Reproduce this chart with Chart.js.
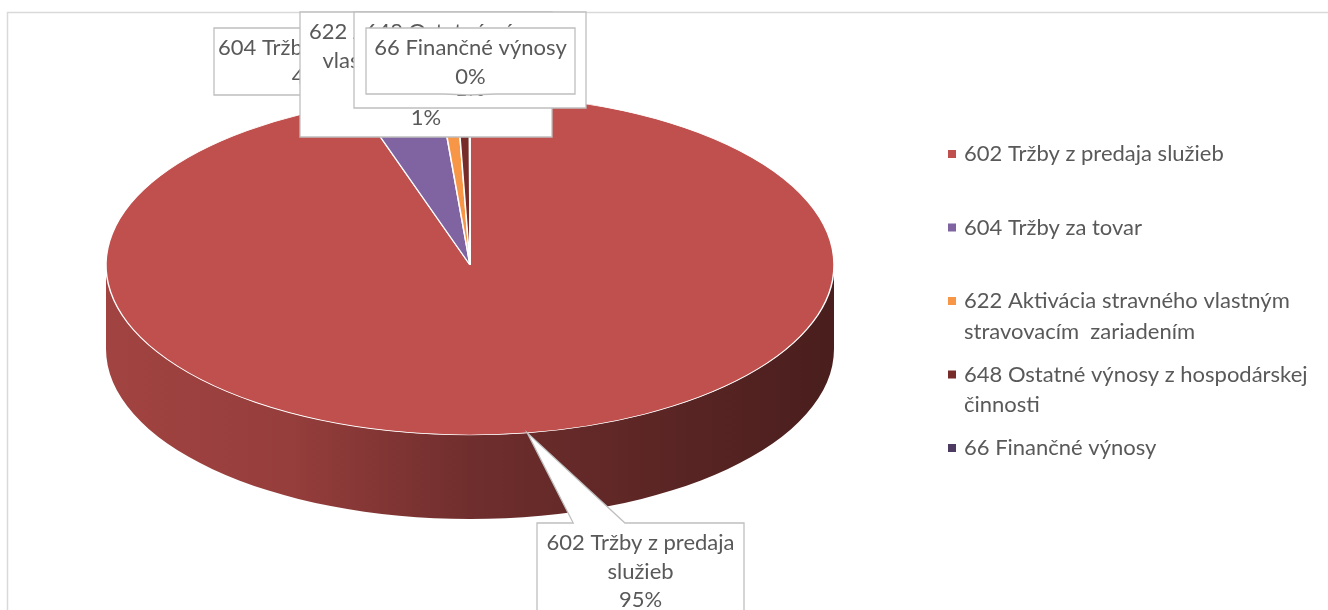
<!DOCTYPE html>
<html>
<head>
<meta charset="utf-8">
<script src="https://cdn.jsdelivr.net/npm/chart.js@4"></script>
<style>
  html, body { margin: 0; padding: 0; background: #fff; }
  #wrap { width: 1328px; height: 610px; position: relative; }
</style>
</head>
<body>
<div id="wrap"><canvas id="pie_3d"></canvas></div>
<script>
// chart data
const categories = [
  '602 Tržby z predaja služieb',
  '604 Tržby za tovar',
  '622 Aktivácia stravného vlastným stravovacím  zariadením',
  '648 Ostatné výnosy z hospodárskej činnosti',
  '66 Finančné výnosy'
];
const values = [94.97, 3.7, 0.75, 0.55, 0.03];
const sliceColors = ['#c0504d', '#8064a2', '#f79646', '#772c2a', '#4d3b62'];

// look of the 3d pie
const tilt = 0.467;   // vertical squash of the disc
const depth = 84;     // thickness of the side wall
const textColor = '#595959';
const font = '22px Lato';

// callout boxes, drawn in this order (later ones cover earlier ones)
const labelBoxes = [
  {x: 537, y: 523, w: 207, h: 120},
  {x: 214, y: 28, w: 186, h: 67},
  {x: 300, y: 12, w: 252, h: 125},
  {x: 354, y: 12, w: 232, h: 96},
  {x: 366, y: 28, w: 209, h: 66}
];

function shade(hex, f) {
  var r = parseInt(hex.substr(1, 2), 16), g = parseInt(hex.substr(3, 2), 16), b = parseInt(hex.substr(5, 2), 16)
  return 'rgb(' + Math.round(r * f) + ',' + Math.round(g * f) + ',' + Math.round(b * f) + ')'
}

function wrapText(ctx, text, maxW) {
  var words = text.split(' ')
  var lines = [], line = ''
  for (var i = 0; i < words.length; i++) {
    var test = line === '' ? words[i] : line + ' ' + words[i]
    if (line !== '' && ctx.measureText(test.trim()).width > maxW) {
      lines.push(line.trim())
      line = words[i]
    } else {
      line = test
    }
  }
  if (line.trim() !== '') lines.push(line.trim())
  return lines
}

function geom(chart) {
  var arc = chart.getDatasetMeta(0).data[0]
  return {cx: arc.x, cy: arc.y, rx: arc.outerRadius, ry: arc.outerRadius * tilt}
}

var pie3d = {
  id: 'pie3d',
  beforeDraw: function (chart) {
    var ctx = chart.ctx
    ctx.save()
    ctx.fillStyle = '#fff'
    ctx.fillRect(0, 0, chart.width, chart.height)
    ctx.strokeStyle = '#d9d9d9'
    ctx.lineWidth = 1.5
    ctx.strokeRect(7.5, 12.5, chart.width + 20, chart.height + 20)
    ctx.restore()
  },
  beforeDatasetsDraw: function (chart) {
    var ctx = chart.ctx
    var g = geom(chart)
    var arcs = chart.getDatasetMeta(0).data
    // side walls, only the front half of the disc shows
    for (var i = 0; i < arcs.length; i++) {
      var a1 = Math.max(arcs[i].startAngle, 0)
      var a2 = Math.min(arcs[i].endAngle, Math.PI)
      if (a2 <= a1) continue
      var col = sliceColors[i]
      var grad = ctx.createLinearGradient(g.cx - g.rx, 0, g.cx + g.rx, 0)
      grad.addColorStop(0, shade(col, 0.84))
      grad.addColorStop(0.25, shade(col, 0.78))
      grad.addColorStop(0.5, shade(col, 0.58))
      grad.addColorStop(1, shade(col, 0.38))
      ctx.beginPath()
      ctx.ellipse(g.cx, g.cy, g.rx, g.ry, 0, a1, a2)
      ctx.ellipse(g.cx, g.cy + depth, g.rx, g.ry, 0, a2, a1, true)
      ctx.closePath()
      ctx.fillStyle = grad
      ctx.fill()
    }
    // squash the top face into an ellipse
    ctx.save()
    ctx.translate(g.cx, g.cy)
    ctx.scale(1, tilt)
    ctx.translate(-g.cx, -g.cy)
  },
  afterDatasetsDraw: function (chart) {
    chart.ctx.restore()
  },
  afterDraw: function (chart) {
    var ctx = chart.ctx
    var g = geom(chart)
    var arcs = chart.getDatasetMeta(0).data
    var total = values.reduce(function (a, b) { return a + b }, 0)
    ctx.save()
    ctx.font = font
    ctx.textBaseline = 'middle'

    // callouts
    for (var i = 0; i < labelBoxes.length; i++) {
      var b = labelBoxes[i]
      var mid = (arcs[i].startAngle + arcs[i].endAngle) / 2
      var ax = g.cx + g.rx * Math.cos(mid), ay = g.cy + g.ry * Math.sin(mid)
      var bx = Math.min(Math.max(ax, b.x + b.w * 0.3), b.x + b.w * 0.7)
      var hw = b.w * 0.125
      ctx.beginPath()
      if (ay < b.y) {
        ctx.moveTo(b.x, b.y)
        ctx.lineTo(bx - hw, b.y)
        ctx.lineTo(ax, ay)
        ctx.lineTo(bx + hw, b.y)
        ctx.lineTo(b.x + b.w, b.y)
        ctx.lineTo(b.x + b.w, b.y + b.h)
        ctx.lineTo(b.x, b.y + b.h)
      } else if (ay > b.y + b.h) {
        ctx.moveTo(b.x, b.y)
        ctx.lineTo(b.x + b.w, b.y)
        ctx.lineTo(b.x + b.w, b.y + b.h)
        ctx.lineTo(bx + hw, b.y + b.h)
        ctx.lineTo(ax, ay)
        ctx.lineTo(bx - hw, b.y + b.h)
        ctx.lineTo(b.x, b.y + b.h)
      } else {
        ctx.rect(b.x, b.y, b.w, b.h)
      }
      ctx.closePath()
      ctx.fillStyle = '#fff'
      ctx.fill()
      ctx.strokeStyle = '#bfbfbf'
      ctx.lineWidth = 1.3
      ctx.stroke()

      var lines = wrapText(ctx, categories[i], b.w - 4)
      lines.push(Math.round(values[i] / total * 100) + '%')
      ctx.fillStyle = textColor
      ctx.textAlign = 'center'
      for (var j = 0; j < lines.length; j++) {
        ctx.fillText(lines[j], b.x + b.w / 2, b.y + 20 + j * 28.5)
      }
    }

    // legend on the right
    ctx.textAlign = 'left'
    for (var i = 0; i < categories.length; i++) {
      var y = 154 + i * 73.5
      ctx.fillStyle = sliceColors[i]
      ctx.fillRect(948, y - 4, 8, 8)
      ctx.fillStyle = textColor
      var lines = wrapText(ctx, categories[i], 350)
      for (var j = 0; j < lines.length; j++) {
        ctx.fillText(lines[j], 964, y + j * 30.5)
      }
    }
    ctx.restore()
  }
}

var ctxPie = document.getElementById('pie_3d').getContext('2d')
var pieChart = new Chart(ctxPie, {
  type: 'pie',
  data: {
    labels: categories,
    datasets: [{
      data: values,
      backgroundColor: sliceColors,
      borderColor: '#ffffff',
      borderWidth: 1.5,
      radius: 364,
      clip: false
    }]
  },
  options: {
    responsive: true,
    maintainAspectRatio: false,
    animation: false,
    events: [],
    layout: {padding: {left: 0, right: 388, top: 0, bottom: 80}},
    plugins: {
      legend: {display: false},
      tooltip: {enabled: false}
    }
  },
  plugins: [pie3d]
})
</script>
</body>
</html>
